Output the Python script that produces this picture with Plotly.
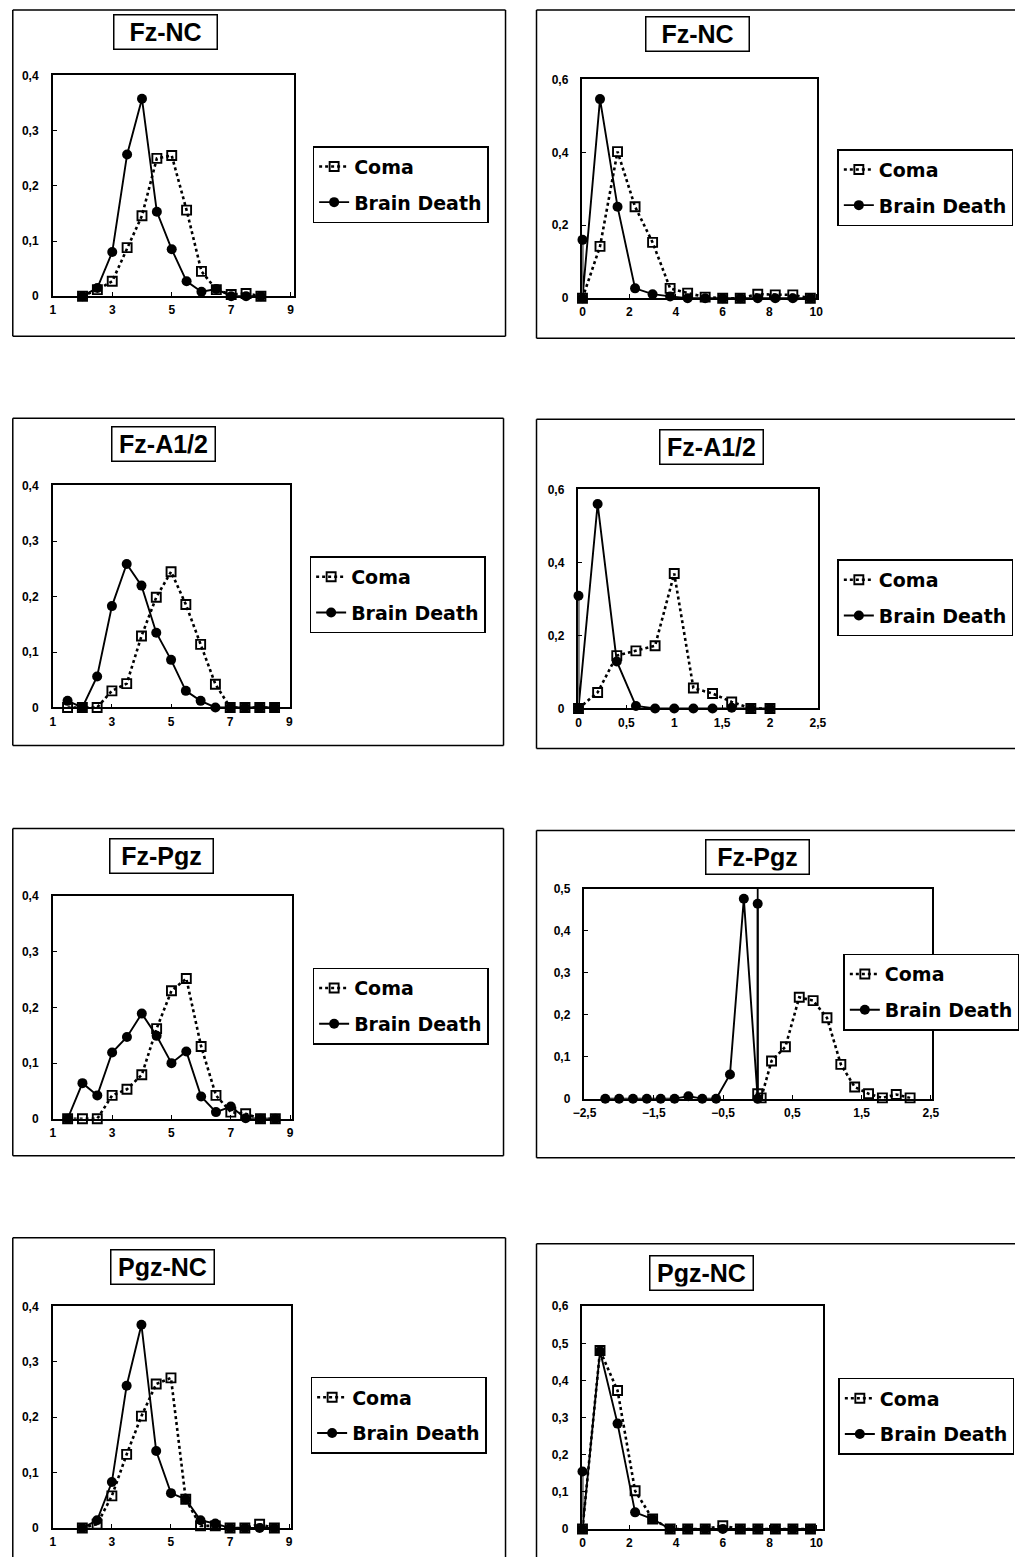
import plotly.graph_objects as go

W, H = 1023, 1564

# ---------------- DATA ----------------
# Panel 1: Fz-NC (left)
fznc_l_x = [2, 2.5, 3, 3.5, 4, 4.5, 5, 5.5, 6, 6.5, 7, 7.5, 8]
fznc_l_coma = [0, 0.012, 0.027, 0.088, 0.146, 0.25, 0.255, 0.156, 0.045, 0.012, 0.003, 0.005, 0]
fznc_l_bd = [0, 0.015, 0.08, 0.257, 0.358, 0.153, 0.085, 0.027, 0.008, 0.013, 0, 0, 0]

# Panel 2: Fz-NC (right)
fznc_r_x = [0, 0.75, 1.5, 2.25, 3.0, 3.75, 4.5, 5.25, 6.0, 6.75, 7.5, 8.25, 9.0, 9.75]
fznc_r_coma = [0, 0.142, 0.402, 0.251, 0.153, 0.027, 0.014, 0.003, 0, 0, 0.011, 0.009, 0.009, 0]
fznc_r_bd_x = [0, 0, 0.75, 1.5, 2.25, 3.0, 3.75, 4.5, 5.25, 6.0, 6.75, 7.5, 8.25, 9.0, 9.75]
fznc_r_bd = [0.16, 0, 0.546, 0.251, 0.027, 0.011, 0.005, 0, 0, 0, 0, 0, 0, 0, 0]

# Panel 3: Fz-A1/2 (left)
fza_l_x = [1.5, 2, 2.5, 3, 3.5, 4, 4.5, 5, 5.5, 6, 6.5, 7, 7.5, 8, 8.5]
fza_l_coma = [0, 0, 0, 0.03, 0.043, 0.129, 0.199, 0.245, 0.186, 0.114, 0.042, 0, 0, 0, 0]
fza_l_bd = [0.012, 0, 0.056, 0.183, 0.259, 0.22, 0.135, 0.086, 0.03, 0.012, 0, 0, 0, 0, 0]

# Panel 4: Fz-A1/2 (right)
fza_r_x = [0, 0.2, 0.4, 0.6, 0.8, 1.0, 1.2, 1.4, 1.6, 1.8, 2.0]
fza_r_coma = [0, 0.044, 0.145, 0.158, 0.172, 0.37, 0.056, 0.041, 0.018, 0, 0]
fza_r_bd_x = [0, 0, 0.2, 0.4, 0.6, 0.8, 1.0, 1.2, 1.4, 1.6, 1.8, 2.0]
fza_r_bd = [0.309, 0, 0.561, 0.129, 0.007, 0, 0, 0, 0, 0.002, 0, 0]

# Panel 5: Fz-Pgz (left)
fzp_l_x = [1.5, 2, 2.5, 3, 3.5, 4, 4.5, 5, 5.5, 6, 6.5, 7, 7.5, 8, 8.5]
fzp_l_coma = [0, 0, 0, 0.042, 0.053, 0.079, 0.162, 0.23, 0.252, 0.13, 0.042, 0.012, 0.009, 0, 0]
fzp_l_bd = [0, 0.064, 0.042, 0.119, 0.147, 0.189, 0.149, 0.1, 0.121, 0.04, 0.012, 0.022, 0.001, 0, 0]

# Panel 6: Fz-Pgz (right)
fzp_r_coma_x = [0, 0.05, 0.2, 0.4, 0.6, 0.8, 1.0, 1.2, 1.4, 1.6, 1.8, 2.0, 2.2]
fzp_r_coma = [0.012, 0.002, 0.09, 0.124, 0.242, 0.234, 0.193, 0.082, 0.028, 0.012, 0.002, 0.01, 0.002]
fzp_r_bd_x = [-2.2, -2.0, -1.8, -1.6, -1.4, -1.2, -1.0, -0.8, -0.6, -0.4, -0.2, 0, 0]
fzp_r_bd = [0, 0, 0, 0, 0, 0, 0.006, 0, 0, 0.058, 0.477, 0, 0.465]

# Panel 7: Pgz-NC (left)
pgz_l_x = [2, 2.5, 3, 3.5, 4, 4.5, 5, 5.5, 6, 6.5, 7, 7.5, 8, 8.5]
pgz_l_coma = [0, 0.007, 0.058, 0.133, 0.202, 0.26, 0.271, 0.052, 0.004, 0.004, 0, 0, 0.007, 0]
pgz_l_bd = [0, 0.014, 0.083, 0.257, 0.367, 0.139, 0.063, 0.052, 0.014, 0.008, 0, 0, 0, 0]

# Panel 8: Pgz-NC (right)
pgz_r_x = [0, 0.75, 1.5, 2.25, 3.0, 3.75, 4.5, 5.25, 6.0, 6.75, 7.5, 8.25, 9.0, 9.75]
pgz_r_coma = [0, 0.481, 0.373, 0.103, 0.027, 0, 0, 0, 0.009, 0, 0, 0, 0, 0]
pgz_r_bd_x = [0, 0, 0.75, 1.5, 2.25, 3.0, 3.75, 4.5, 5.25, 6.0, 6.75, 7.5, 8.25, 9.0, 9.75]
pgz_r_bd = [0.155, 0, 0.479, 0.284, 0.045, 0.027, 0, 0, 0, 0, 0, 0, 0, 0, 0]

titles = ["Fz-NC", "Fz-NC", "Fz-A1/2", "Fz-A1/2", "Fz-Pgz", "Fz-Pgz", "Pgz-NC", "Pgz-NC"]
series_names = ["Coma", "Brain Death"]

data = [
    (fznc_l_x, fznc_l_coma, fznc_l_x, fznc_l_bd),
    (fznc_r_x, fznc_r_coma, fznc_r_bd_x, fznc_r_bd),
    (fza_l_x, fza_l_coma, fza_l_x, fza_l_bd),
    (fza_r_x, fza_r_coma, fza_r_bd_x, fza_r_bd),
    (fzp_l_x, fzp_l_coma, fzp_l_x, fzp_l_bd),
    (fzp_r_coma_x, fzp_r_coma, fzp_r_bd_x, fzp_r_bd),
    (pgz_l_x, pgz_l_coma, pgz_l_x, pgz_l_bd),
    (pgz_r_x, pgz_r_coma, pgz_r_bd_x, pgz_r_bd),
]

# ---------------- LAYOUT (target pixel geometry, as seen in the reference) ----------------
plot_px = [
    (52, 293, 75, 296), (582, 817, 79, 298),
    (52, 289, 485, 707), (578, 818, 489, 708),
    (52, 291, 895, 1118), (584, 932, 888, 1098),
    (52, 290, 1305, 1527), (582, 823, 1305, 1528),
]
xcfg = [
    dict(range=[1, 9.1], tick0=1, dtick=2),
    dict(range=[0, 10.05], tick0=0, dtick=2),
    dict(range=[1, 9.01], tick0=1, dtick=2),
    dict(range=[0, 2.505], tick0=0, dtick=0.5),
    dict(range=[1, 9.05], tick0=1, dtick=2),
    dict(range=[-2.5, 2.52], tick0=-2.5, dtick=1),
    dict(range=[1, 9.05], tick0=1, dtick=2),
    dict(range=[0, 10.3], tick0=0, dtick=2),
]
ycfg = [
    dict(range=[0, 0.401], dtick=0.1), dict(range=[0, 0.601], dtick=0.2),
    dict(range=[0, 0.401], dtick=0.1), dict(range=[0, 0.601], dtick=0.2),
    dict(range=[0, 0.401], dtick=0.1), dict(range=[0, 0.501], dtick=0.1),
    dict(range=[0, 0.401], dtick=0.1), dict(range=[0, 0.601], dtick=0.1),
]
legend_px = [(312, 146), (837, 149), (309, 556), (837, 559),
             (312, 967), (843, 953), (310, 1376), (838, 1377)]
title_px = [(165, 32), (697, 34), (163, 444), (711, 447),
            (161, 855), (757, 856), (162, 1266), (701, 1272)]
# frames: x0, x1, y0, y1 ; None means the edge runs off the page (not drawn)
frame_px = [(8, 505, 10, 336), (536, None, 10, 338),
            (8, 503, 418, 745), (536, None, 419, 748),
            (8, 503, 828, 1155), (536, None, 830, 1157),
            (8, 505, 1237, None), (536, None, 1243, None)]

# correction for the offset/scale observed between figure pixels and the photographed page
SX, OX = 0.981, 11.2
SY, OY = 0.991, 6.0


def fxp(xd):
    return min(max((xd - OX) / SX, 0.8), W - 0.5)


def fyp(yd):
    return min(max((yd - OY) / SY, 0.8), H - 0.5)


def px(xd):
    return fxp(xd) / W


def py(yd):
    return 1 - fyp(yd) / H


fig = go.Figure()
tickfont = dict(family="Liberation Sans, Arial, sans-serif", size=12, color="black", weight="bold")
legfont = dict(family="DejaVu Sans, sans-serif", size=19, color="black", weight="bold")

layout_updates = {}
for i in range(8):
    n = i + 1
    sfx = "" if n == 1 else str(n)
    xa, ya = "x" + sfx, "y" + sfx
    lg = "legend" + sfx
    cx, cy, bx, by = data[i]
    fig.add_trace(go.Scatter(
        x=cx, y=cy, name=series_names[0], mode="lines+markers",
        line=dict(color="black", width=2.6, dash="dot"),
        marker=dict(symbol="square-open", size=9, color="black", line=dict(width=1.9, color="black")),
        xaxis=xa, yaxis=ya, legend=lg, legendgroup="c%d" % n, cliponaxis=False))
    fig.add_trace(go.Scatter(
        x=bx, y=by, name=series_names[1], mode="lines+markers",
        line=dict(color="black", width=1.9),
        marker=dict(symbol="circle", size=10, color="black"),
        xaxis=xa, yaxis=ya, legend=lg, legendgroup="b%d" % n, cliponaxis=False))

    l, r, t, b = plot_px[i]
    layout_updates["xaxis" + sfx] = dict(
        domain=[px(l), px(r)], anchor=ya, showline=True, mirror=True, linecolor="black",
        linewidth=1.5, ticks="inside", ticklen=4, tickcolor="black", showgrid=False,
        zeroline=False, tickfont=tickfont, tickmode="linear", ticklabelstandoff=2, **xcfg[i])
    layout_updates["yaxis" + sfx] = dict(
        domain=[py(b), py(t)], anchor=xa, showline=True, mirror=True, linecolor="black",
        linewidth=1.5, ticks="inside", ticklen=4, tickcolor="black", showgrid=False,
        zeroline=False, tickfont=tickfont, tickmode="linear", tick0=0,
        ticklabelstandoff=10, **ycfg[i])
    lx, ly = legend_px[i]
    layout_updates[lg] = dict(
        x=px(lx), y=py(ly), xanchor="left", yanchor="top", xref="paper", yref="paper",
        bordercolor="black", borderwidth=1.5, bgcolor="white", font=legfont,
        tracegroupgap=8, traceorder="grouped", itemwidth=30)

    tx, ty = title_px[i]
    fig.add_annotation(
        x=px(tx), y=py(ty), xref="paper", yref="paper", showarrow=False,
        xanchor="center", yanchor="middle",
        text="<b>%s</b>" % titles[i],
        font=dict(family="Liberation Sans Narrow, Liberation Sans, Arial", size=25, color="black"),
        bordercolor="black", borderwidth=1.5, borderpad=3, bgcolor="white",
        width=96, height=27)

    fx0, fx1, fy0, fy1 = frame_px[i]
    xl = px(fx0)
    xr = px(fx1) if fx1 is not None else 1.0
    yt = py(fy0)
    yb = py(fy1) if fy1 is not None else 0.0
    segs = ["M %.5f,%.5f L %.5f,%.5f" % (xl, yt, xl, yb),      # left edge
            "M %.5f,%.5f L %.5f,%.5f" % (xl, yt, xr, yt)]      # top edge
    if fx1 is not None:
        segs.append("M %.5f,%.5f L %.5f,%.5f" % (xr, yt, xr, yb))
    if fy1 is not None:
        segs.append("M %.5f,%.5f L %.5f,%.5f" % (xl, yb, xr, yb))
    fig.add_shape(type="path", xref="paper", yref="paper", path=" ".join(segs),
                  line=dict(color="black", width=1.5), layer="below")

# vertical line at x = 0 in the right Fz-Pgz panel
fig.add_shape(type="line", xref="x6", yref="y6", x0=0, x1=0, y0=0, y1=0.5,
              line=dict(color="black", width=1.8))

fig.update_layout(**layout_updates)
fig.update_layout(
    width=W, height=H, margin=dict(l=0, r=0, t=0, b=0),
    paper_bgcolor="white", plot_bgcolor="white", separators=", ",
    showlegend=True,
)

fig.write_html("out.html", config={"displayModeBar": False},
               post_script="document.body.style.margin='0px';document.body.style.overflow='hidden';")
